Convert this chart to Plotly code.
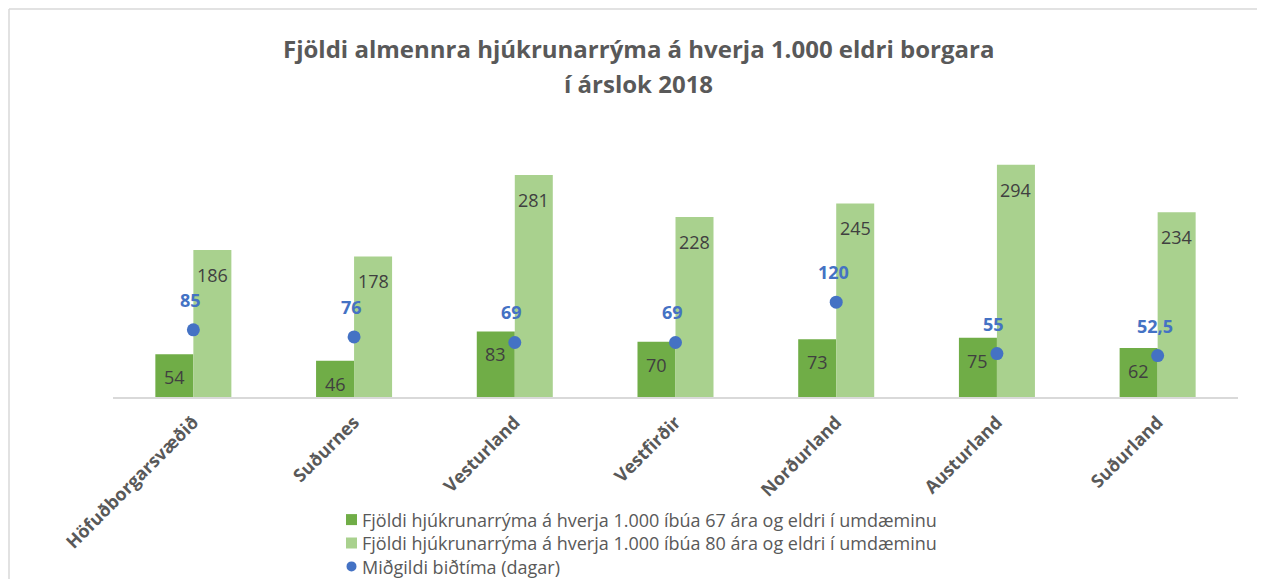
import plotly.graph_objects as go

categories = ["Höfuðborgarsvæðið", "Suðurnes", "Vesturland", "Vestfirðir",
              "Norðurland", "Austurland", "Suðurland"]
beds_67 = [54, 46, 83, 70, 73, 75, 62]
beds_80 = [186, 178, 281, 228, 245, 294, 234]
wait_days = [85, 76, 69, 69, 120, 55, 52.5]
wait_labels = ["85", "76", "69", "69", "120", "55", "52,5"]

name_67 = "Fjöldi hjúkrunarrýma á hverja 1.000 íbúa 67 ára og eldri í umdæminu"
name_80 = "Fjöldi hjúkrunarrýma á hverja 1.000 íbúa 80 ára og eldri í umdæminu"
name_wait = "Miðgildi biðtíma (dagar)"
title_lines = ["Fjöldi almennra hjúkrunarrýma á hverja 1.000 eldri borgara",
               "í árslok 2018"]

C_DARK = "#70AD47"
C_LIGHT = "#A9D18E"
C_BLUE = "#4472C4"
FONT = "Open Sans"

# page body offset (browser default margin)
OFF = 8
W, H = 1265 - OFF, 579 - OFF
# target screen geometry
PLOT_L, PLOT_R, PLOT_T, BASE = 113, 1238, 160, 397
ML = PLOT_L - OFF
MR = W - (PLOT_R - OFF)
MT = PLOT_T - OFF
MB = H - (BASE - OFF)
PW = W - ML - MR
PH = H - MT - MB


def px_x(p):  # screen x -> paper
    return (p - PLOT_L) / PW


def px_y(p):  # screen y -> paper
    return (BASE - p) / PH


fig = go.Figure()
fig.add_trace(go.Bar(
    x=categories, y=beds_67, name=name_67,
    marker=dict(color=C_DARK, line=dict(width=0)),
))
fig.add_trace(go.Bar(
    x=categories, y=beds_80, name=name_80,
    marker=dict(color=C_LIGHT, line=dict(width=0)),
))
fig.add_trace(go.Scatter(
    x=categories, y=wait_days, name=name_wait, mode="markers",
    marker=dict(color=C_BLUE, size=13),
))

annotations = []
for c, v in zip(categories, beds_67):
    annotations.append(dict(
        x=c, y=v, xref="x", yref="y", text=str(v), showarrow=False,
        xanchor="center", yanchor="middle", xshift=-19, yshift=-23,
        font=dict(family=FONT, size=18, color="#404040"),
    ))
for c, v in zip(categories, beds_80):
    annotations.append(dict(
        x=c, y=v, xref="x", yref="y", text=str(v), showarrow=False,
        xanchor="center", yanchor="middle", xshift=19, yshift=-25,
        font=dict(family=FONT, size=18, color="#404040"),
    ))
for c, v, t in zip(categories, wait_days, wait_labels):
    annotations.append(dict(
        x=c, y=v, xref="x", yref="y", text=t, showarrow=False,
        xanchor="center", yanchor="middle", xshift=-3, yshift=30,
        font=dict(family=FONT, size=18, color=C_BLUE, weight="bold"),
    ))
for line, ypx in zip(title_lines, [48, 84]):
    annotations.append(dict(
        x=px_x(638), y=px_y(ypx), xref="paper", yref="paper", text=line,
        showarrow=False, xanchor="center", yanchor="middle",
        font=dict(family=FONT, size=24, color="#595959", weight="bold"),
    ))

# manual legend (one multi-line text + symbols)
LEG_FS = 18
row_gap = LEG_FS * 1.3
mid_row = 543
legend_rows = [mid_row - row_gap, mid_row, mid_row + row_gap]
annotations.append(dict(
    x=px_x(361), y=px_y(mid_row), xref="paper", yref="paper",
    text="<br>".join([name_67, name_80, name_wait]), align="left",
    showarrow=False, xanchor="left", yanchor="middle", borderpad=0,
    font=dict(family=FONT, size=LEG_FS, color="#595959"),
))
shapes = []
for col, ry in zip([C_DARK, C_LIGHT], legend_rows[:2]):
    shapes.append(dict(
        type="rect", xref="paper", yref="paper",
        x0=px_x(346), x1=px_x(357), y0=px_y(ry + 5.5), y1=px_y(ry - 5.5),
        line=dict(width=0), fillcolor=col,
    ))
shapes.append(dict(
    type="circle", xref="paper", yref="paper",
    x0=px_x(346.5), x1=px_x(356.5), y0=px_y(legend_rows[2] + 5),
    y1=px_y(legend_rows[2] - 5), line=dict(width=0), fillcolor=C_BLUE,
))
# outer chart frame: top and left edges only
shapes.append(dict(
    type="line", xref="paper", yref="paper",
    x0=px_x(OFF + 1), x1=px_x(1265), y0=px_y(OFF + 1), y1=px_y(OFF + 1),
    line=dict(color="#D9D9D9", width=1.5), layer="below",
))
shapes.append(dict(
    type="line", xref="paper", yref="paper",
    x0=px_x(OFF + 1), x1=px_x(OFF + 1), y0=px_y(OFF + 1), y1=px_y(579),
    line=dict(color="#D9D9D9", width=1.5), layer="below",
))

fig.update_layout(
    width=W, height=H,
    margin=dict(l=ML, r=MR, t=MT, b=MB, autoexpand=False),
    paper_bgcolor="white", plot_bgcolor="white",
    barmode="group", bargap=0.527, bargroupgap=0,
    xaxis=dict(
        showline=True, linecolor="#D9D9D9", linewidth=1.5,
        showgrid=False, ticks="", tickangle=-45, automargin=False,
        ticklabelstandoff=6,
        tickfont=dict(family=FONT, size=18, color="#595959", weight="bold"),
    ),
    yaxis=dict(range=[0, 300], visible=False, showgrid=False, zeroline=False,
               automargin=False),
    showlegend=False,
    annotations=annotations,
    shapes=shapes,
)

fig.write_html("out.html")
